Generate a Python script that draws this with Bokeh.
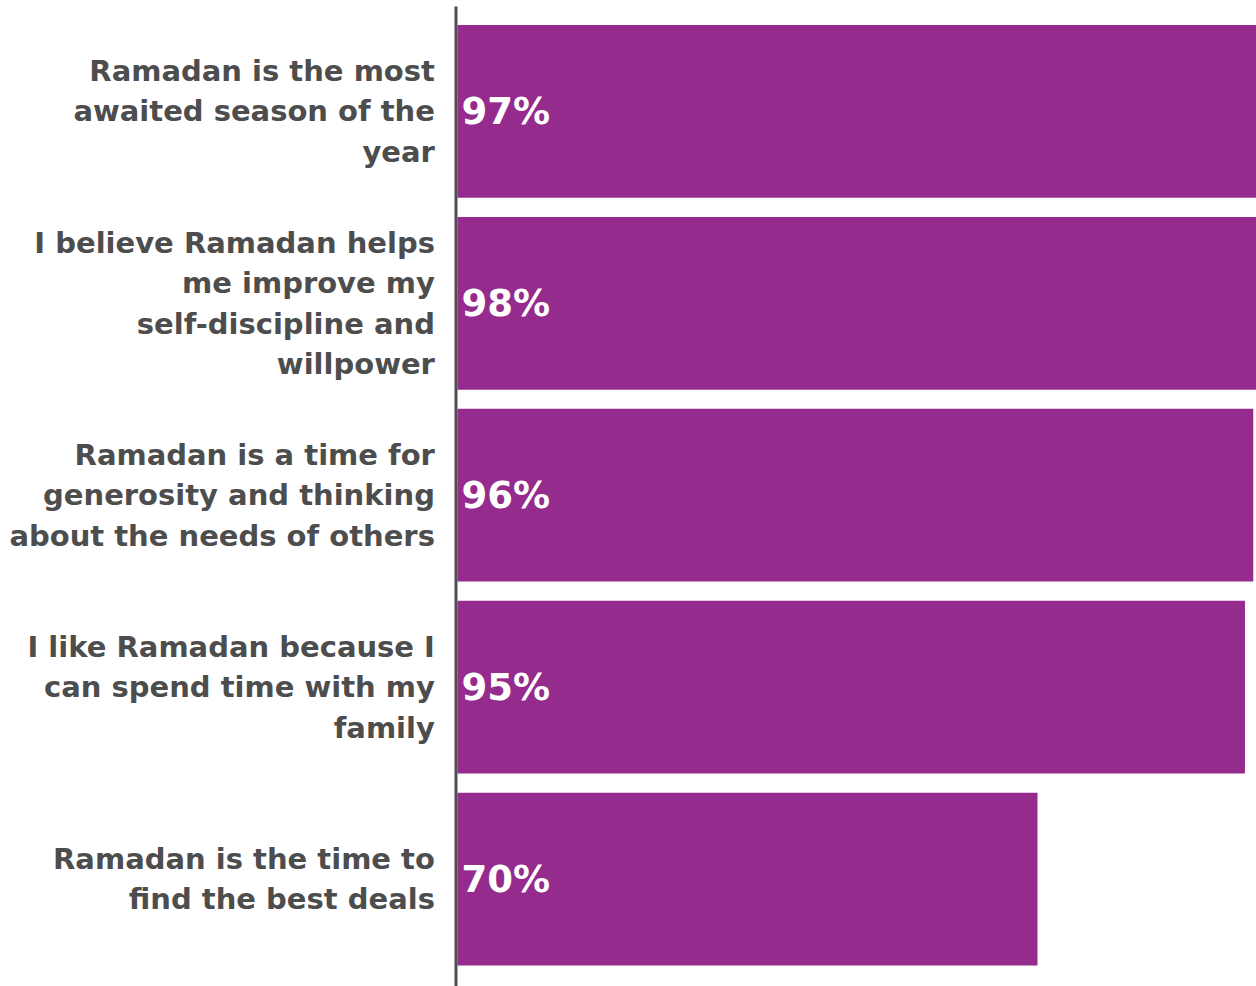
from bokeh.plotting import figure
from bokeh.models import Range1d, ColumnDataSource
from bokeh.core.properties import value
from bokeh.embed import file_html
from bokeh.resources import INLINE

categories = [
    "Ramadan is the most\nawaited season of the\nyear",
    "I believe Ramadan helps\nme improve my\nself-discipline and\nwillpower",
    "Ramadan is a time for\ngenerosity and thinking\nabout the needs of others",
    "I like Ramadan because I\ncan spend time with my\nfamily",
    "Ramadan is the time to\nfind the best deals",
]
values = [97, 98, 96, 95, 70]
value_labels = ["97%", "98%", "96%", "95%", "70%"]

W, H = 1256, 986
x_lo, x_hi = -54.94, 96.39
y_top, y_bot = -0.578, 4.56

pos = list(range(len(categories)))
src = ColumnDataSource(dict(y=pos, v=values, cat=categories, lab=value_labels,
                            zero=[0] * len(pos)))

p = figure(width=W, height=H, output_backend="svg", toolbar_location=None,
           x_range=Range1d(x_lo, x_hi), y_range=Range1d(y_bot, y_top),
           min_border=0, outline_line_color=None)
p.axis.visible = False
p.grid.visible = False
p.background_fill_color = "white"
p.border_fill_color = "white"

p.hbar(y="y", left=0.12, right="v", height=0.9, source=src,
       fill_color="#952B8C", line_color=None)

p.segment(x0=[-0.06], x1=[-0.06], y0=[y_top + 6 * (y_bot - y_top) / H], y1=[y_bot],
          line_color="#4d4d4d", line_width=3)

p.text(x=-2.6, y="y", text="cat", source=src, text_align="right",
       text_baseline="middle", text_font=value("DejaVu Sans"), text_font_style="bold",
       text_font_size="29px", text_color="#4d4d4d", text_line_height=1.19)

p.text(x="zero", y="y", text="lab", source=src, x_offset=5, text_align="left",
       text_baseline="middle", text_font=value("DejaVu Sans"), text_font_style="bold",
       text_font_size="37px", text_color="white")

open("out.html", "w").write(file_html(p, INLINE))
